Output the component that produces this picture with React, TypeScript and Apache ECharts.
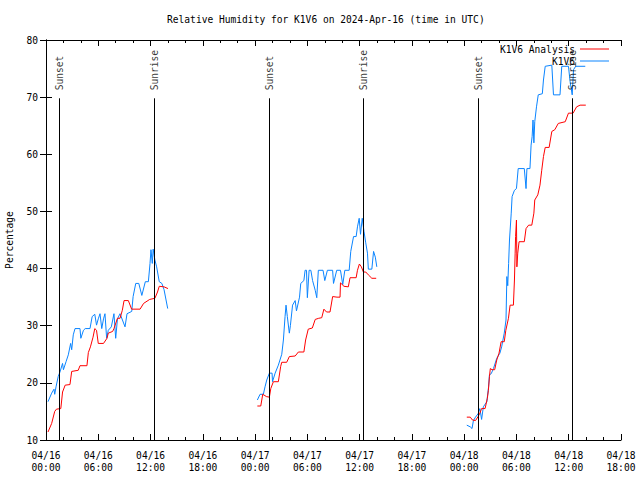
import React, { useEffect, useRef } from "react";
import * as echarts from "echarts";

// Time axis: hours since 2024-04-16 00:00 UTC
const xTickDates = ["04/16", "04/16", "04/16", "04/16", "04/17", "04/17", "04/17", "04/17", "04/18", "04/18", "04/18", "04/18"];
const xTickTimes = ["00:00", "06:00", "12:00", "18:00", "00:00", "06:00", "12:00", "18:00", "00:00", "06:00", "12:00", "18:00"];

const sunHours = [1.53, 12.44, 25.64, 36.43, 49.63, 60.43];
const sunLabels = ["Sunset", "Sunrise", "Sunset", "Sunrise", "Sunset", "Sunrise"];

// K1V6 Analysis (red)
const anaHours1 = [0.23, 0.65, 1.0, 1.2, 1.7, 1.9, 2.2, 2.75, 2.95, 3.7, 3.9, 4.7, 4.86, 5.1, 5.4, 5.6, 5.8, 6.0, 6.6, 7.0, 7.15, 7.65, 7.8, 8.2, 8.5, 8.76, 8.96, 9.45, 9.83, 10.8, 11.2, 11.9, 12.5, 12.8, 13.0, 13.55, 14.0];
const anaRH1 = [11.4, 12.9, 15.0, 15.4, 15.5, 18.4, 19.6, 19.7, 22.0, 22.2, 23.0, 23.0, 25.3, 26.3, 28.0, 29.5, 29.2, 26.9, 26.9, 27.8, 28.7, 29.0, 29.5, 31.3, 31.3, 32.7, 34.4, 34.4, 32.9, 32.9, 33.9, 34.6, 34.8, 35.9, 36.9, 36.8, 36.5];
const anaHours2 = [24.26, 24.65, 24.88, 25.3, 25.64, 25.8, 26.1, 26.67, 26.94, 27.06, 27.63, 27.93, 28.6, 28.97, 29.6, 29.8, 30.1, 30.57, 30.9, 31.3, 31.65, 31.9, 32.2, 32.6, 32.9, 33.4, 33.75, 33.8, 34.2, 34.7, 34.9, 35.6, 35.75, 35.97, 36.2, 36.43, 36.7, 37.0, 37.4, 37.9];
const anaRH2 = [15.95, 15.95, 18.0, 17.6, 17.5, 19.0, 20.2, 20.2, 22.9, 23.6, 23.6, 24.6, 24.7, 25.4, 25.4, 27.5, 29.4, 29.6, 31.1, 31.3, 31.4, 32.9, 32.4, 32.4, 35.1, 35.0, 35.0, 37.5, 36.9, 36.8, 38.4, 38.4, 39.7, 40.8, 40.3, 39.4, 39.4, 38.9, 38.3, 38.3];
const anaHours3 = [48.3, 48.7, 48.95, 49.3, 49.6, 49.8, 50.0, 50.4, 50.66, 50.78, 50.9, 51.0, 51.2, 51.5, 51.74, 52.0, 52.24, 52.6, 52.78, 53.08, 53.27, 53.65, 53.77, 53.85, 53.9, 54.0, 54.05, 54.15, 54.3, 54.9, 55.1, 55.4, 55.76, 56.0, 56.1, 56.45, 56.7, 56.9, 57.1, 57.3, 57.75, 58.06, 58.4, 58.8, 59.6, 59.97, 60.5, 60.9, 61.3, 61.96];
const anaRH3 = [14.0, 14.0, 13.5, 13.4, 14.1, 14.7, 15.5, 15.5, 17.3, 18.7, 21.1, 22.5, 22.3, 22.3, 24.0, 25.2, 27.2, 27.2, 29.2, 31.3, 33.6, 33.6, 38.0, 42.7, 45.6, 48.5, 40.3, 42.7, 44.7, 44.7, 47.0, 47.6, 47.6, 49.7, 52.0, 52.9, 54.6, 57.2, 59.6, 61.2, 61.2, 64.0, 64.3, 65.4, 65.7, 67.2, 67.2, 68.3, 68.6, 68.6];

// K1V6 observations (blue)
const obsHours1 = [0.23, 0.65, 0.92, 1.0, 1.15, 1.4, 1.6, 1.9, 2.0, 2.3, 2.56, 2.83, 2.95, 3.13, 3.33, 3.9, 4.0, 4.3, 4.5, 5.05, 5.3, 5.6, 5.8, 6.0, 6.2, 6.4, 6.6, 6.77, 6.96, 7.15, 7.5, 7.8, 8.0, 8.2, 8.5, 9.07, 9.3, 9.84, 10.0, 10.3, 10.65, 11.0, 11.4, 11.75, 11.94, 12.05, 12.2, 12.3, 12.5, 12.7, 13.0, 13.3, 13.55, 13.97];
const obsRH1 = [16.7, 18.2, 18.9, 18.0, 19.3, 21.1, 21.9, 23.4, 22.3, 23.7, 24.9, 26.9, 25.8, 28.4, 29.5, 29.5, 27.8, 29.2, 29.5, 29.5, 31.6, 32.0, 30.1, 31.2, 32.1, 29.5, 31.2, 32.1, 27.8, 29.2, 29.8, 32.1, 27.8, 31.2, 32.1, 29.8, 32.1, 32.5, 35.1, 37.4, 37.4, 35.3, 37.7, 37.7, 40.9, 43.3, 40.9, 43.4, 41.5, 40.3, 37.7, 37.4, 36.3, 33.0];
const obsHours2 = [24.26, 24.57, 24.95, 25.14, 25.34, 25.64, 25.95, 26.0, 26.3, 26.67, 27.06, 27.25, 27.44, 27.55, 27.7, 27.93, 28.05, 28.3, 28.6, 28.75, 29.1, 29.24, 29.6, 29.74, 29.9, 30.0, 30.2, 30.4, 30.6, 30.9, 31.08, 31.26, 31.8, 32.0, 32.3, 32.9, 33.0, 33.37, 33.8, 34.06, 34.3, 34.8, 34.98, 35.3, 35.6, 35.75, 35.95, 36.1, 36.3, 36.5, 36.7, 36.9, 37.0, 37.4, 37.6, 37.8, 37.97];
const obsRH2 = [17.0, 18.0, 18.0, 19.3, 20.5, 21.7, 21.7, 20.2, 21.7, 23.1, 25.0, 27.5, 31.6, 33.6, 31.6, 28.7, 30.0, 33.6, 34.4, 32.6, 35.0, 37.4, 37.9, 39.7, 39.7, 34.9, 39.7, 39.7, 37.9, 36.2, 34.9, 39.7, 39.7, 37.9, 39.7, 39.7, 37.4, 39.7, 39.7, 37.2, 39.7, 39.7, 43.0, 45.6, 45.6, 47.3, 48.8, 46.0, 48.8, 46.5, 44.5, 42.7, 39.9, 39.9, 43.0, 42.0, 40.3];
const obsHours3 = [48.3, 48.7, 48.9, 49.06, 49.3, 49.6, 49.8, 50.0, 50.2, 50.6, 50.8, 50.9, 51.1, 51.36, 51.74, 52.1, 52.3, 52.6, 52.8, 52.9, 53.0, 53.1, 53.2, 53.4, 53.5, 53.77, 54.0, 54.2, 54.9, 55.1, 55.2, 55.55, 55.68, 55.8, 55.9, 56.0, 56.1, 56.3, 56.5, 56.97, 57.1, 57.3, 58.06, 58.25, 59.0, 59.2, 59.97, 60.16, 60.4, 60.55, 60.8, 61.9];
const obsRH3 = [12.6, 12.3, 12.0, 13.4, 14.0, 14.6, 15.5, 13.6, 15.8, 16.7, 19.3, 21.4, 21.6, 22.5, 24.3, 25.2, 26.3, 28.7, 31.0, 38.6, 37.0, 40.9, 45.0, 49.7, 52.6, 53.7, 54.0, 57.5, 57.5, 54.0, 57.5, 57.5, 61.6, 63.1, 66.0, 62.0, 65.7, 68.3, 70.4, 70.6, 73.0, 75.4, 75.6, 70.4, 70.4, 75.4, 75.4, 72.7, 70.4, 74.8, 75.4, 75.4];

const FONT = '"DejaVu Sans Mono", "Liberation Mono", monospace';
const FS = 9.6;

function segs(hours: number[][], vals: number[][]) {
  const out: (number | null)[][] = [];
  hours.forEach((hs, k) => {
    hs.forEach((h, i) => out.push([h, vals[k][i]]));
    if (k < hours.length - 1) out.push([hs[hs.length - 1] + 0.5, null]);
  });
  return out;
}

export default function App() {
  const ref = useRef<HTMLDivElement>(null);
  useEffect(() => {
    if (!ref.current) return;
    const chart = echarts.init(ref.current, null, { renderer: "svg" });
    const axisLine = { show: true, lineStyle: { color: "#000", width: 1 } };
    const xCommon = {
      type: "value",
      min: 0,
      max: 66,
      interval: 6,
      axisLine,
      axisTick: { show: true, inside: true, length: 6, lineStyle: { color: "#000" } },
      minorTick: { show: true, splitNumber: 3, length: 3, lineStyle: { color: "#000" } },
      splitLine: { show: false },
    };
    const yCommon = {
      type: "value",
      min: 10,
      max: 80,
      interval: 10,
      axisLine,
      axisTick: { show: true, inside: true, length: 6, lineStyle: { color: "#000" } },
      splitLine: { show: false },
    };
    chart.setOption({
      animation: false,
      backgroundColor: "#fff",
      title: {
        text: "Relative Humidity for K1V6 on 2024-Apr-16 (time in UTC)",
        left: 167,
        top: 14,
        padding: 0,
        textStyle: { fontFamily: FONT, fontSize: FS, fontWeight: "normal", color: "#000" },
      },
      legend: {
        data: [
          { name: "K1V6 Analysis", icon: "rect" },
          { name: "K1V6", icon: "rect" },
        ],
        orient: "vertical",
        align: "right",
        right: 26,
        top: 39,
        itemWidth: 29,
        itemHeight: 1,
        itemGap: 2,
        textStyle: { fontFamily: FONT, fontSize: FS, color: "#000" },
      },
      grid: { left: 46, right: 19, top: 40, bottom: 40, outerBoundsMode: "none", containLabel: false },
      xAxis: [
        {
          ...xCommon,
          position: "bottom",
          axisLabel: {
            show: true,
            margin: 9,
            lineHeight: 12,
            fontFamily: FONT,
            fontSize: FS,
            color: "#000",
            showMinLabel: true,
            showMaxLabel: true,
            formatter: (v: number) => {
              const i = Math.round(v / 6);
              return `${xTickDates[i]}\n${xTickTimes[i]}`;
            },
          },
        },
        { ...xCommon, position: "top", axisLabel: { show: false } },
      ],
      yAxis: [
        {
          ...yCommon,
          position: "left",
          name: "Percentage",
          nameLocation: "middle",
          nameGap: 32,
          nameRotate: 90,
          nameTextStyle: { fontFamily: FONT, fontSize: FS, color: "#000" },
          axisLabel: { show: true, margin: 8, fontFamily: FONT, fontSize: FS, color: "#000" },
        },
        { ...yCommon, position: "right", axisLabel: { show: false } },
      ],
      series: [
        {
          name: "K1V6 Analysis",
          type: "line",
          symbol: "none",
          connectNulls: false,
          lineStyle: { color: "#ff0000", width: 1 },
          itemStyle: { color: "#ff0000" },
          data: segs([anaHours1, anaHours2, anaHours3], [anaRH1, anaRH2, anaRH3]),
          z: 3,
        },
        {
          name: "K1V6",
          type: "line",
          symbol: "none",
          connectNulls: false,
          lineStyle: { color: "#0a84ff", width: 1 },
          itemStyle: { color: "#0a84ff" },
          data: segs([obsHours1, obsHours2, obsHours3], [obsRH1, obsRH2, obsRH3]),
          z: 2,
        },
        {
          name: "sun",
          type: "scatter",
          symbolSize: 0,
          silent: true,
          data: sunHours.map((h, i) => [h, 71.2, sunLabels[i]]),
          label: {
            show: true,
            position: "inside",
            rotate: 90,
            align: "left",
            verticalAlign: "middle",
            fontFamily: FONT,
            fontSize: FS,
            color: "#000",
            formatter: (p: any) => p.data[2],
          },
          markLine: {
            silent: true,
            symbol: ["none", "none"],
            label: { show: false },
            lineStyle: { color: "#000", width: 1, type: "solid" },
            data: sunHours.map((h) => [{ coord: [h, 10] }, { coord: [h, 69.8] }]),
          },
          z: 4,
        },
      ],
    });
    return () => chart.dispose();
  }, []);
  return <div ref={ref} style={{ position: "fixed", left: 0, top: 0, width: 640, height: 480 }} />;
}
